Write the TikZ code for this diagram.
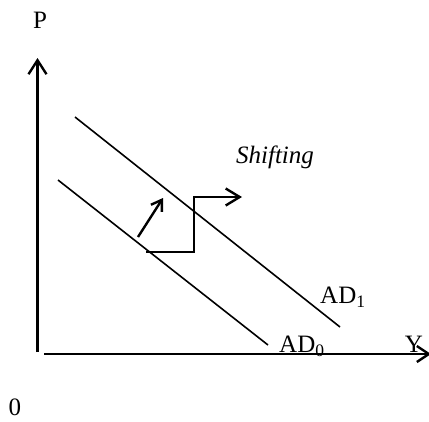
\documentclass[tikz,border=0pt]{standalone}
\usepackage{fontspec}
\setmainfont{Liberation Serif}
\usetikzlibrary{arrows.meta}
\begin{document}
\begin{tikzpicture}[x=1pt,y=-1pt,
  lbl/.style={inner sep=0pt,font=\fontsize{25}{29}\selectfont},
  axis/.style={line width=2.4pt},
  curve/.style={line width=1.6pt},
  arr/.style={line width=2.4pt,-{Straight Barb[length=14pt,width=17pt,line width=2.4pt]}},
  sarr/.style={line width=2.4pt,-{Straight Barb[length=10pt,width=13pt,line width=2.4pt]}}]
\useasboundingbox (0,0) rectangle (429,421);
% axes
\coordinate (o) at (37.5,352);
\coordinate (ptop) at (37.5,58);
\coordinate (xs) at (44,354);
\coordinate (xe) at (431,354);
\draw[axis,-{Straight Barb[length=14pt,width=18pt,line width=2.4pt]}] (o) -- (ptop);
\draw[axis,-{Straight Barb[length=12pt,width=16pt,line width=2.4pt]}] (xs) -- (xe);
\node[lbl] (P) at (40,20) {P};
\node[lbl] (zero) at (15,407) {0};
\node[lbl] (Y) at (414,344) {Y};
% AD curves
\coordinate (a1s) at (75,117);
\coordinate (a1e) at (340,327);
\coordinate (a0s) at (58,180);
\coordinate (a0e) at (268,345);
\draw[curve] (a1s) -- (a1e);
\draw[curve] (a0s) -- (a0e);
\node[lbl,anchor=west] (AD1) at (320,297) {AD\textsubscript{1}};
\node[lbl,anchor=west] (AD0) at (279,346) {AD\textsubscript{0}};
% arrows
\coordinate (d1) at (138,237);
\coordinate (d2) at (163,198);
\draw[sarr] (d1) -- (d2);
\coordinate (s1) at (146,252);
\coordinate (s2) at (194,252);
\coordinate (s3) at (194,197);
\coordinate (s4) at (242,197);
\draw[arr] (s1) -- (s2) -- (s3) -- (s4);
\node[lbl,font=\fontsize{25}{29}\selectfont\itshape] (shift) at (275,157) {Shifting};
\end{tikzpicture}
\end{document}
